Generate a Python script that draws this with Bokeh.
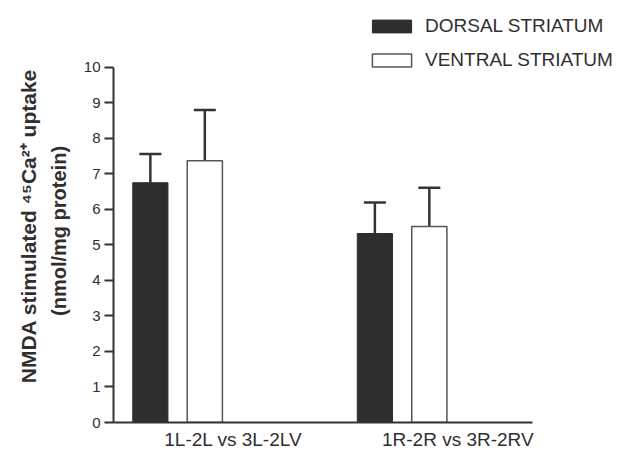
from bokeh.plotting import figure
from bokeh.models import (ColumnDataSource, Range1d, Whisker, TeeHead,
                          Legend, LegendItem, FixedTicker, LinearAxis)
from bokeh.embed import file_html
from bokeh.resources import INLINE

# ---- data ----
groups = ["1L-2L vs 3L-2LV", "1R-2R vs 3R-2RV"]
dorsal = [6.75, 5.32]
dorsal_err = [0.81, 0.87]
ventral = [7.37, 5.52]
ventral_err = [1.43, 1.09]
y_ticks = [0, 1, 2, 3, 4, 5, 6, 7, 8, 9, 10]
y_title_1 = "NMDA stimulated \u2074\u2075Ca\u00b2\u207a uptake"
y_title_2 = "(nmol/mg protein)"

# ---- layout constants ----
group_pos = [1.53, 6.89]
bar_offset = 0.65
bar_width = 0.84
label_shift = 1.33
NBSP = "\u00a0"

dx = [g - bar_offset for g in group_pos]
vx = [g + bar_offset for g in group_pos]

src_d = ColumnDataSource(dict(x=dx, top=dorsal,
                              upper=[m + e for m, e in zip(dorsal, dorsal_err)]))
src_v = ColumnDataSource(dict(x=vx, top=ventral,
                              upper=[m + e for m, e in zip(ventral, ventral_err)]))

FONT = "Liberation Sans"
DARK = "#2e2e2e"
TXT = "#2f2f2f"

p = figure(width=619, height=452, output_backend="svg", toolbar_location=None,
           x_range=Range1d(0, 12.08), y_range=Range1d(0, 11.88),
           min_border_left=113, min_border_right=0, min_border_top=0,
           min_border_bottom=28)
p.outline_line_color = None
p.grid.visible = False
p.background_fill_color = "white"
p.border_fill_color = "white"

rd = p.vbar(x="x", top="top", width=bar_width, bottom=0, source=src_d,
            fill_color=DARK, line_color=DARK, line_width=1)
rv = p.vbar(x="x", top="top", width=bar_width, bottom=0, source=src_v,
            fill_color="white", line_color="#555555", line_width=1.5)

for src in (src_d, src_v):
    w = Whisker(base="x", lower="top", upper="upper", source=src,
                line_color="#333333", line_width=2.5,
                upper_head=TeeHead(size=22, line_color="#333333", line_width=2.5),
                lower_head=None)
    p.add_layout(w)

# y axis
ya = p.yaxis[0]
ya.ticker = FixedTicker(ticks=y_ticks)
ya.bounds = (0, 10)
ya.axis_line_width = 2
ya.axis_line_color = "#333333"
ya.major_tick_line_width = 2
ya.major_tick_line_color = "#333333"
ya.major_tick_out = 9
ya.major_tick_in = 0
ya.minor_tick_line_color = None
ya.major_label_standoff = 4
ya.major_label_text_font = FONT
ya.major_label_text_font_size = "15px"
ya.major_label_text_color = TXT


def title_axis(text, size, standoff):
    ax = LinearAxis(ticker=FixedTicker(ticks=[]),
                    axis_line_color=None, major_tick_line_color=None,
                    minor_tick_line_color=None, major_tick_out=0,
                    major_tick_in=0, major_label_standoff=0,
                    major_label_text_font_size="0px",
                    axis_label=text, axis_label_standoff=standoff,
                    axis_label_text_font=FONT, axis_label_text_font_style="bold",
                    axis_label_text_font_size=size,
                    axis_label_text_color=TXT)
    p.add_layout(ax, "left")
    return ax

# trailing no-break spaces shift the centred title down to match the picture
title_axis(y_title_2 + NBSP * 7, "20px", 11)
title_axis(y_title_1 + NBSP * 5, "21px", 5)

# x axis
xa = p.xaxis[0]
label_pos = [g + label_shift for g in group_pos]
xa.ticker = FixedTicker(ticks=label_pos)
xa.major_label_overrides = {t: g for t, g in zip(label_pos, groups)}
xa.bounds = (0, 10)
xa.axis_line_width = 2
xa.axis_line_color = "#333333"
xa.major_tick_line_color = None
xa.minor_tick_line_color = None
xa.major_tick_out = 0
xa.major_tick_in = 0
xa.major_label_standoff = 6
xa.major_label_text_font = FONT
xa.major_label_text_font_size = "19px"
xa.major_label_text_color = TXT

legend = Legend(items=[LegendItem(label="DORSAL STRIATUM", renderers=[rd]),
                       LegendItem(label="VENTRAL STRIATUM", renderers=[rv])],
                location=(254, 351), padding=0, margin=0, spacing=12,
                glyph_width=49, glyph_height=16, label_height=16,
                label_standoff=9, border_line_color=None,
                background_fill_alpha=0,
                label_text_font=FONT, label_text_font_size="19px",
                label_text_color=TXT)
p.add_layout(legend, "center")

open("out.html", "w").write(file_html(p, INLINE))
